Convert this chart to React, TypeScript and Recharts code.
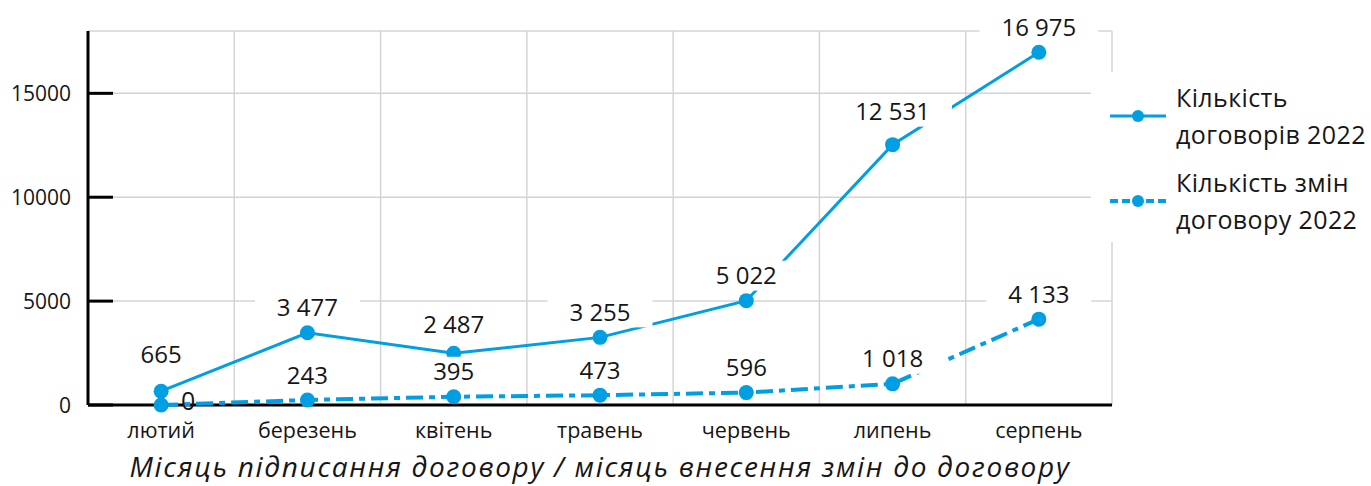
import { ComposedChart, Line, XAxis, YAxis, CartesianGrid, Legend, LabelList } from "recharts"

const months = ["лютий", "березень", "квітень", "травень", "червень", "липень", "серпень"]
const contracts2022 = [665, 3477, 2487, 3255, 5022, 12531, 16975]
const amendments2022 = [0, 243, 395, 473, 596, 1018, 4133]
const yTicks = [0, 5000, 10000, 15000]

const contractsName = "Кількість договорів 2022"
const amendmentsName = "Кількість змін договору 2022"
const xTitle = "Місяць підписання договору / місяць внесення змін до договору"

const data = months.map((month, i) => ({
  month,
  contracts: contracts2022[i],
  amendments: amendments2022[i],
}))

const BLUE = "#009fe3"
const GRID = "#d4d4d4"
const INK = "#161616"
const FONT = "'Open Sans', 'Noto Sans', sans-serif"
const AMEND_DASH = "17 6 6 6"

// some labels sit a bit higher than the default to dodge neighbours
const labelLift: Record<string, Record<number, number>> = {
  contracts: { 0: 37, 2: 29, 5: 33 },
  amendments: {},
}

const fmt = (v: number) => String(v).replace(/\B(?=(\d{3})+(?!\d))/g, " ")

// rough width of digits/spaces at 24px
const textWidth = (s: string) => s.split("").reduce((w, ch) => w + (ch === " " ? 6.2 : 13.7), 0)

function PointLabel(props: any) {
  const { series, index, value } = props
  const vb = props.viewBox ?? {}
  const x = Number(props.x ?? vb.x)
  const y = Number(props.y ?? vb.y)
  const text = fmt(Number(value))

  if (series === "amendments" && index === 0) {
    return (
      <text x={x + 27} y={y - 4} dy="0.36em" textAnchor="middle" fontSize={25} fontFamily={FONT} fill={INK}>
        {text}
      </text>
    )
  }

  const lift = labelLift[series]?.[index] ?? 25
  const cy = y - lift
  const w = textWidth(text) + 44
  return (
    <g>
      <rect x={x - w / 2} y={cy - 15} width={w} height={30} fill="#fff" />
      <text x={x} y={cy} dy="0.36em" textAnchor="middle" fontSize={24} fontFamily={FONT} fill={INK}>
        {text}
      </text>
    </g>
  )
}

function YTick({ x, y, payload }: any) {
  return (
    <g>
      <line x1={x + 17} x2={x + 42} y1={y} y2={y} stroke="#000" strokeWidth={3} />
      <text x={x} y={y} dy="0.36em" textAnchor="end" fontSize={21} fontFamily={FONT} fill={INK}>
        {payload.value}
      </text>
    </g>
  )
}

function LegendBox({ payload }: any) {
  return (
    <div style={{ paddingTop: 7, fontFamily: FONT }}>
      {(payload ?? []).map((entry: any) => {
        const dashed = !!entry.payload?.strokeDasharray
        return (
          <div key={entry.value} style={{ display: "flex", alignItems: "center", marginBottom: 11 }}>
            <svg width={56} height={16} style={{ marginLeft: 19, flex: "none" }}>
              <line
                x1={0}
                x2={56}
                y1={8}
                y2={8}
                stroke={entry.color}
                strokeWidth={dashed ? 4 : 3}
                strokeDasharray={dashed ? "8 4" : undefined}
              />
              <circle cx={28} cy={8} r={6} fill={entry.color} />
            </svg>
            <div
              style={{
                marginLeft: 10,
                width: 200,
                fontSize: 25,
                letterSpacing: 0.4,
                lineHeight: "37px",
                color: INK,
              }}
            >
              {entry.value}
            </div>
          </div>
        )
      })}
    </div>
  )
}

export default function App() {
  return (
    <div style={{ position: "absolute", left: 0, top: 0, background: "#fff" }}>
      <ComposedChart width={1371} height={486} data={data} margin={{ top: 31, right: 259, bottom: 0, left: 0 }}>
        <CartesianGrid
          stroke={GRID}
          strokeWidth={1.5}
          verticalCoordinatesGenerator={({ offset }: any) =>
            months.map((_, i) => offset.left + (offset.width * (i + 1)) / months.length)
          }
        />
        <XAxis
          dataKey="month"
          scale="band"
          height={81}
          interval={0}
          tickSize={0}
          tickMargin={18}
          tickLine={false}
          axisLine={{ stroke: "#000", strokeWidth: 3 }}
          tick={{ fill: INK, fontSize: 21.5, fontFamily: FONT }}
          label={{
            value: xTitle,
            position: "insideBottom",
            offset: 9,
            fontSize: 28,
            letterSpacing: 1.7,
            fontStyle: "italic",
            fontFamily: FONT,
            fill: INK,
          }}
        />
        <YAxis
          domain={[0, 18000]}
          ticks={yTicks}
          interval={0}
          width={88}
          tickSize={0}
          tickMargin={17}
          tickLine={false}
          axisLine={{ stroke: "#000", strokeWidth: 3 }}
          tick={<YTick />}
        />
        <Legend
          layout="vertical"
          align="center"
          verticalAlign="middle"
          wrapperStyle={{ left: 1091, top: 72, width: 280, height: 170, backgroundColor: "#fff" }}
          content={<LegendBox />}
        />
        <Line
          dataKey="contracts"
          name={contractsName}
          stroke={BLUE}
          strokeWidth={3}
          dot={{ r: 7.5, fill: BLUE, stroke: "none" }}
          activeDot={false}
          isAnimationActive={false}
          zIndex={600}
        >
          <LabelList dataKey="contracts" content={<PointLabel series="contracts" />} />
        </Line>
        <Line
          dataKey="amendments"
          name={amendmentsName}
          stroke={BLUE}
          strokeWidth={4}
          strokeDasharray={AMEND_DASH}
          dot={{ r: 7.5, fill: BLUE, stroke: "none", strokeDasharray: "" }}
          activeDot={false}
          isAnimationActive={false}
          zIndex={600}
        >
          <LabelList dataKey="amendments" content={<PointLabel series="amendments" />} />
        </Line>
      </ComposedChart>
    </div>
  )
}
